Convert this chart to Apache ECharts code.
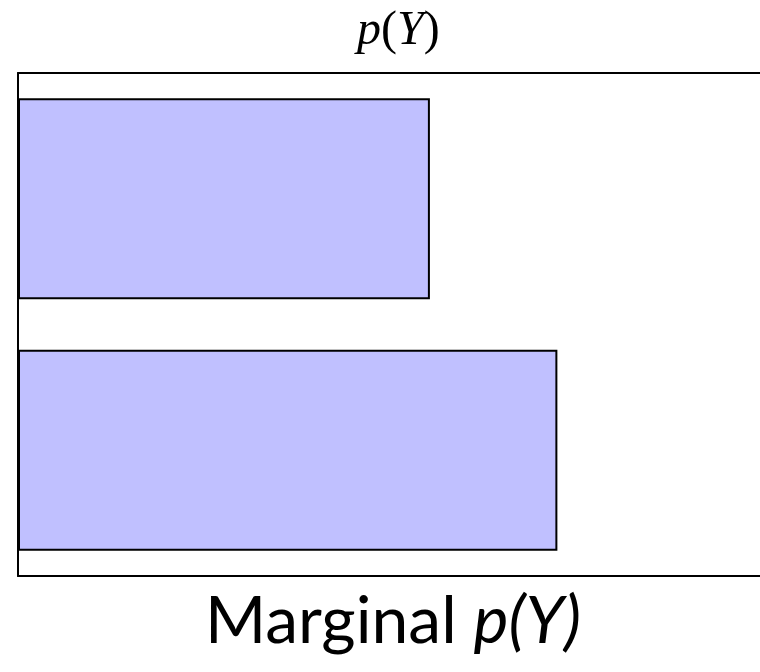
<!DOCTYPE html>
<html lang="en">
<head>
  <meta charset="UTF-8">
  <title>Marginal p(Y)</title>
  <script src="https://cdn.jsdelivr.net/npm/echarts@6/dist/echarts.min.js"></script>
</head>
<body style="margin:0">
  <div id="app" style="width: 760px; height: 672px;"></div>
  <script>
    var categories = ['Y=0', 'Y=1']
    var probs = [0.433, 0.567]
    var axisMax = 0.78

    var frameLine = { show: true, lineStyle: { color: '#000', width: 2 } }

    var mChart = echarts.init(document.querySelector('#app'))
    var option = {
      backgroundColor: '#fff',
      title: [
        {
          text: '{i|p}{n|(}{i|Y}{n|)}',
          left: 352,
          top: 2,
          textStyle: {
            fontWeight: 'normal',
            rich: {
              i: { fontFamily: 'Liberation Serif', fontStyle: 'italic', fontWeight: 'normal', fontSize: 48, color: '#000' },
              n: { fontFamily: 'Liberation Serif', fontWeight: 'normal', fontSize: 48, color: '#000' }
            }
          }
        },
        {
          text: '{n|Marginal }{i|p(Y)}',
          left: 200,
          top: 584,
          textStyle: {
            fontWeight: 'normal',
            rich: {
              n: { fontFamily: 'Lato', fontWeight: 'normal', fontSize: 66, color: '#000' },
              i: { fontFamily: 'Lato', fontStyle: 'italic', fontWeight: 'normal', fontSize: 66, color: '#000' }
            }
          }
        }
      ],
      grid: {
        left: 18,
        top: 73,
        right: 0,
        height: 503,
        containLabel: false
      },
      xAxis: [
        {
          type: 'value',
          min: 0,
          max: axisMax,
          position: 'bottom',
          axisLine: frameLine,
          axisTick: { show: false },
          axisLabel: { show: false },
          splitLine: { show: false }
        },
        {
          type: 'value',
          min: 0,
          max: axisMax,
          position: 'top',
          axisLine: frameLine,
          axisTick: { show: false },
          axisLabel: { show: false },
          splitLine: { show: false }
        }
      ],
      yAxis: {
        type: 'category',
        data: categories,
        inverse: true,
        axisLine: frameLine,
        axisTick: { show: false },
        axisLabel: { show: false }
      },
      series: [
        {
          type: 'bar',
          data: probs,
          barCategoryGap: '20%',
          itemStyle: {
            color: '#c0c0ff',
            borderColor: '#000',
            borderWidth: 2
          },
          silent: true
        }
      ]
    }
    mChart.setOption(option)
  </script>
</body>
</html>
